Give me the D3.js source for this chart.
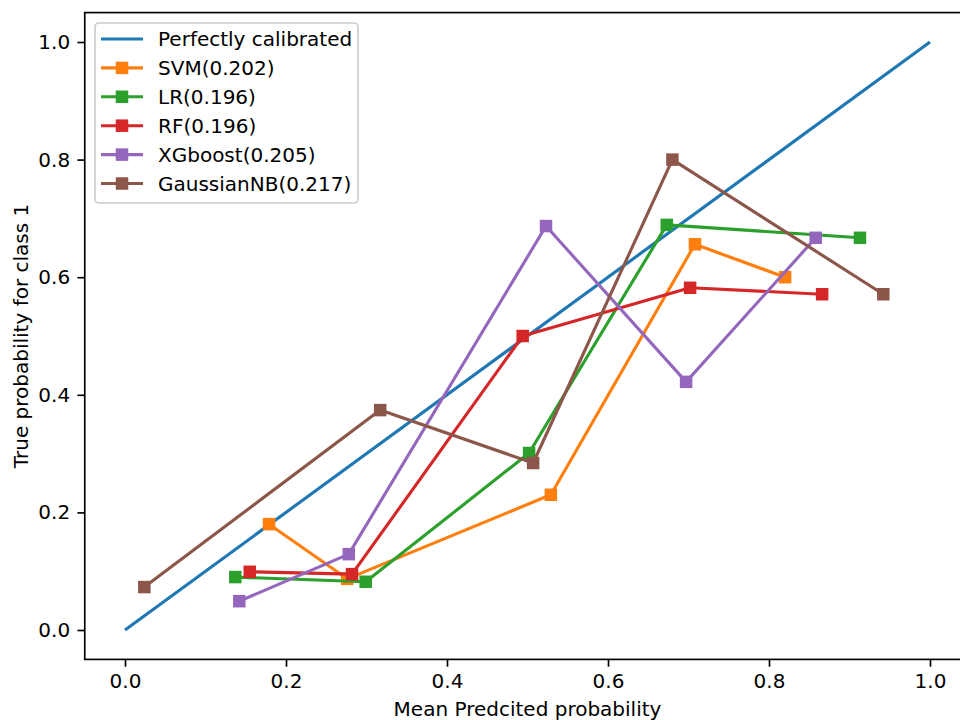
<!DOCTYPE html>
<html>
<head>
<meta charset="utf-8">
<script src="https://cdn.jsdelivr.net/npm/d3@7"></script>
<style>
  body { margin: 0; background: #fff; }
  svg { display: block; font-family: "DejaVu Sans", sans-serif; }
</style>
</head>
<body>
<div id="chart"></div>
<script>
const width = 960;
const height = 720;

// calibration curves
const seriesNames = ["SVM(0.202)", "LR(0.196)", "RF(0.196)", "XGboost(0.205)", "GaussianNB(0.217)"];
const seriesColors = ["#ff7f0e", "#2ca02c", "#d62728", "#9467bd", "#8c564b"];

const svmPred = [0.179, 0.276, 0.529, 0.708, 0.820];
const svmTrue = [0.180, 0.087, 0.230, 0.656, 0.600];

const lrPred = [0.137, 0.299, 0.502, 0.673, 0.913];
const lrTrue = [0.090, 0.082, 0.301, 0.689, 0.667];

const rfPred = [0.155, 0.282, 0.494, 0.702, 0.866];
const rfTrue = [0.099, 0.095, 0.500, 0.582, 0.571];

const xgbPred = [0.142, 0.278, 0.523, 0.697, 0.858];
const xgbTrue = [0.049, 0.129, 0.687, 0.422, 0.667];

const nbPred = [0.024, 0.317, 0.507, 0.680, 0.942];
const nbTrue = [0.073, 0.374, 0.284, 0.800, 0.571];

const ticks = [0, 0.2, 0.4, 0.6, 0.8, 1.0];

const series = [
    [svmPred, svmTrue],
    [lrPred, lrTrue],
    [rfPred, rfTrue],
    [xgbPred, xgbTrue],
    [nbPred, nbTrue]
].map(([px, py], i) => ({
    name: seriesNames[i],
    color: seriesColors[i],
    points: px.map((p, j) => [p, py[j]])
}));

const margin = { left: 84.75, top: 12.6, right: 970.25, bottom: 659.4 };
const fontSize = 20;

const x = d3.scaleLinear().domain([-0.05, 1.05]).range([margin.left, margin.right]);
const y = d3.scaleLinear().domain([-0.05, 1.05]).range([margin.bottom, margin.top]);

const svg = d3.select("#chart")
    .append("svg")
    .attr("width", width)
    .attr("height", height);

const line = d3.line().x(d => x(d[0])).y(d => y(d[1]));

// perfectly calibrated diagonal
svg.append("path")
    .attr("d", line([[0, 0], [1, 1]]))
    .attr("fill", "none")
    .attr("stroke", "#1f77b4")
    .attr("stroke-width", 3.125);

const ms = 12.5;
series.forEach(s => {
    const g = svg.append("g");
    g.append("path")
        .attr("d", line(s.points))
        .attr("fill", "none")
        .attr("stroke", s.color)
        .attr("stroke-width", 3.125)
        .attr("stroke-linejoin", "round");
    g.selectAll("rect")
        .data(s.points)
        .join("rect")
        .attr("x", d => x(d[0]) - ms / 2)
        .attr("y", d => y(d[1]) - ms / 2)
        .attr("width", ms)
        .attr("height", ms)
        .attr("fill", s.color);
});

// axes
const xAxis = svg.append("g")
    .attr("transform", `translate(0,${margin.bottom})`)
    .call(d3.axisBottom(x).tickValues(ticks).tickFormat(d3.format(".1f")).tickSize(7.3).tickPadding(7.3));

const yAxis = svg.append("g")
    .attr("transform", `translate(${margin.left},0)`)
    .call(d3.axisLeft(y).tickValues(ticks).tickFormat(d3.format(".1f")).tickSize(7.3).tickPadding(7.3));

[xAxis, yAxis].forEach(a => {
    a.select(".domain").remove();
    a.selectAll(".tick line").attr("stroke", "#000").attr("stroke-width", 1.67);
    a.selectAll(".tick text")
        .attr("fill", "#000")
        .style("font-size", fontSize + "px")
        .style("font-family", "DejaVu Sans, sans-serif");
});

// spines
svg.append("rect")
    .attr("x", margin.left)
    .attr("y", margin.top)
    .attr("width", margin.right - margin.left)
    .attr("height", margin.bottom - margin.top)
    .attr("fill", "none")
    .attr("stroke", "#000")
    .attr("stroke-width", 1.67);

// axis labels
svg.append("text")
    .attr("x", (margin.left + margin.right) / 2)
    .attr("y", 716)
    .attr("text-anchor", "middle")
    .style("font-size", fontSize + "px")
    .text("Mean Predcited probability");

svg.append("text")
    .attr("transform", `translate(28,${(margin.top + margin.bottom) / 2}) rotate(-90)`)
    .attr("text-anchor", "middle")
    .style("font-size", fontSize + "px")
    .text("True probability for class 1");

// legend
const legendItems = [{ name: "Perfectly calibrated", color: "#1f77b4", marker: false }]
    .concat(series.map(s => ({ name: s.name, color: s.color, marker: true })));

const legend = svg.append("g");
legend.append("rect")
    .attr("x", 95)
    .attr("y", 23)
    .attr("width", 263)
    .attr("height", 180)
    .attr("rx", 4)
    .attr("fill", "rgba(255,255,255,0.8)")
    .attr("stroke", "#cccccc")
    .attr("stroke-width", 1.67);

legendItems.forEach((d, i) => {
    const cy = 39 + i * 28.9;
    legend.append("line")
        .attr("x1", 101).attr("x2", 143)
        .attr("y1", cy).attr("y2", cy)
        .attr("stroke", d.color)
        .attr("stroke-width", 3.125);
    if (d.marker) {
        legend.append("rect")
            .attr("x", 122 - ms / 2).attr("y", cy - ms / 2)
            .attr("width", ms).attr("height", ms)
            .attr("fill", d.color);
    }
    legend.append("text")
        .attr("x", 158)
        .attr("y", cy)
        .attr("dy", "0.36em")
        .style("font-size", fontSize + "px")
        .text(d.name);
});
</script>
</body>
</html>
